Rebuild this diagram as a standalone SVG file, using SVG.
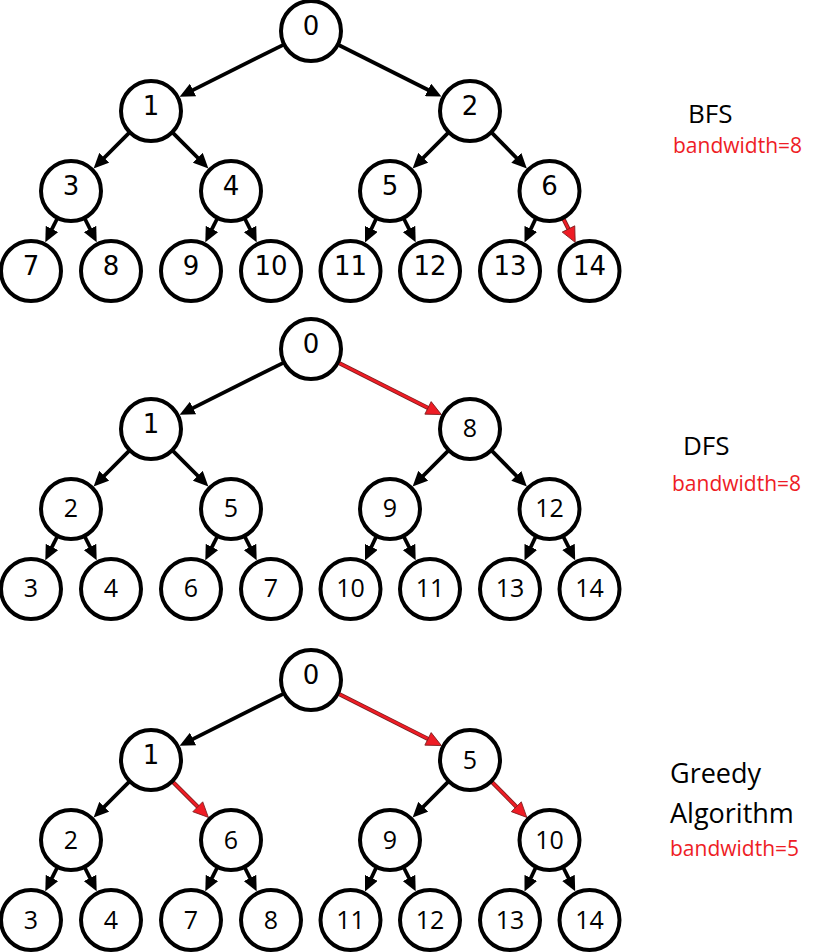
<svg xmlns="http://www.w3.org/2000/svg" width="826" height="952" viewBox="0 0 826 952">
<style>
.n circle{fill:#fff;stroke:#000;stroke-width:4}
.n text{font-size:25px;text-anchor:middle;fill:#000}
.n text.dj{font-family:"DejaVu Sans",sans-serif;font-size:26px}
.n text.os{font-family:"Open Sans","Liberation Sans",sans-serif}
.e{stroke:#000;stroke-width:3.8;fill:none;marker-end:url(#ab)}
.ru{stroke:#7a1e1e;stroke-width:4.2;fill:none}
.r{stroke:#ee1c25;stroke-width:2.6;fill:none;marker-end:url(#ar)}
.lab{font-family:"Open Sans","Liberation Sans",sans-serif;fill:#000}
.bw{font-family:"Open Sans","Liberation Sans",sans-serif;fill:#ee1c25;font-size:21px}
</style>
<defs>
<marker id="ab" markerUnits="userSpaceOnUse" markerWidth="15" markerHeight="14" viewBox="0 0 15 14" refX="7" refY="7" orient="auto"><path d="M0,0 L15,7 L0,14 z" fill="#000"/></marker>
<marker id="ar" markerUnits="userSpaceOnUse" markerWidth="17" markerHeight="16" viewBox="-1 -1 17 16" refX="7" refY="7" orient="auto"><path d="M0,0 L15,7 L0,14 z" fill="#ee1c25" stroke="#7a1e1e" stroke-width="0.8"/></marker>
</defs>

<!-- Tree 1: BFS -->
<g id="tree-bfs">
<g id="edges-bfs">
<line class="e" x1="283.27" y1="44.86" x2="186.78" y2="93.11"/>
<line class="e" x1="338.69" y1="44.93" x2="434.27" y2="93.02"/>
<line class="e" x1="129.08" y1="132.92" x2="99.28" y2="162.72"/>
<line class="e" x1="172.92" y1="132.92" x2="202.72" y2="162.72"/>
<line class="e" x1="448.08" y1="132.92" x2="418.28" y2="162.72"/>
<line class="e" x1="491.92" y1="132.92" x2="521.22" y2="162.72"/>
<line class="e" x1="57.14" y1="218.73" x2="48.89" y2="235.22"/>
<line class="e" x1="84.86" y1="218.73" x2="93.11" y2="235.22"/>
<line class="e" x1="217.14" y1="218.73" x2="208.89" y2="235.22"/>
<line class="e" x1="244.86" y1="218.73" x2="253.11" y2="235.22"/>
<line class="e" x1="376.14" y1="218.73" x2="368.39" y2="235.22"/>
<line class="e" x1="403.86" y1="218.73" x2="412.11" y2="235.22"/>
<line class="e" x1="535.64" y1="218.73" x2="527.89" y2="235.22"/>
<line class="ru" x1="563.36" y1="218.73" x2="571.61" y2="235.22"/>
<line class="r" x1="563.36" y1="218.73" x2="571.61" y2="235.22"/>
</g>
<g id="bfs-0" class="n"><circle cx="311" cy="31" r="30"/><text class="dj" x="311" y="35">0</text></g>
<g id="bfs-1" class="n"><circle cx="151" cy="111" r="30"/><text class="dj" x="151" y="115">1</text></g>
<g id="bfs-2" class="n"><circle cx="470" cy="111" r="30"/><text class="dj" x="470" y="115">2</text></g>
<g id="bfs-3" class="n"><circle cx="71" cy="191" r="30"/><text class="dj" x="71" y="195">3</text></g>
<g id="bfs-4" class="n"><circle cx="231" cy="191" r="30"/><text class="dj" x="231" y="195">4</text></g>
<g id="bfs-5" class="n"><circle cx="390" cy="191" r="30"/><text class="dj" x="390" y="195">5</text></g>
<g id="bfs-6" class="n"><circle cx="549.5" cy="191" r="30"/><text class="dj" x="549.5" y="195">6</text></g>
<g id="bfs-7" class="n"><circle cx="31" cy="271" r="30"/><text class="dj" x="31" y="275">7</text></g>
<g id="bfs-8" class="n"><circle cx="111" cy="271" r="30"/><text class="dj" x="111" y="275">8</text></g>
<g id="bfs-9" class="n"><circle cx="191" cy="271" r="30"/><text class="dj" x="191" y="275">9</text></g>
<g id="bfs-10" class="n"><circle cx="271" cy="271" r="30"/><text class="dj" x="271" y="275">10</text></g>
<g id="bfs-11" class="n"><circle cx="350.5" cy="271" r="30"/><text class="dj" x="350.5" y="275">11</text></g>
<g id="bfs-12" class="n"><circle cx="430" cy="271" r="30"/><text class="dj" x="430" y="275">12</text></g>
<g id="bfs-13" class="n"><circle cx="510" cy="271" r="30"/><text class="dj" x="510" y="275">13</text></g>
<g id="bfs-14" class="n"><circle cx="589.5" cy="271" r="30"/><text class="dj" x="589.5" y="275">14</text></g>
<text class="lab" x="688" y="123" font-size="26">BFS</text>
<text class="bw" x="673" y="153">bandwidth=8</text>
</g>

<!-- Tree 2: DFS -->
<g id="tree-dfs" transform="translate(0,318)">
<g id="edges-dfs">
<line class="e" x1="283.27" y1="44.86" x2="186.78" y2="93.11"/>
<line class="ru" x1="338.69" y1="44.93" x2="434.27" y2="93.02"/>
<line class="r" x1="338.69" y1="44.93" x2="434.27" y2="93.02"/>
<line class="e" x1="129.08" y1="132.92" x2="99.28" y2="162.72"/>
<line class="e" x1="172.92" y1="132.92" x2="202.72" y2="162.72"/>
<line class="e" x1="448.08" y1="132.92" x2="418.28" y2="162.72"/>
<line class="e" x1="491.92" y1="132.92" x2="521.22" y2="162.72"/>
<line class="e" x1="57.14" y1="218.73" x2="48.89" y2="235.22"/>
<line class="e" x1="84.86" y1="218.73" x2="93.11" y2="235.22"/>
<line class="e" x1="217.14" y1="218.73" x2="208.89" y2="235.22"/>
<line class="e" x1="244.86" y1="218.73" x2="253.11" y2="235.22"/>
<line class="e" x1="376.14" y1="218.73" x2="368.39" y2="235.22"/>
<line class="e" x1="403.86" y1="218.73" x2="412.11" y2="235.22"/>
<line class="e" x1="535.64" y1="218.73" x2="527.89" y2="235.22"/>
<line class="e" x1="563.36" y1="218.73" x2="571.61" y2="235.22"/>
</g>
<g id="dfs-0" class="n"><circle cx="311" cy="31" r="30"/><text class="dj" x="311" y="35">0</text></g>
<g id="dfs-1" class="n"><circle cx="151" cy="111" r="30"/><text class="dj" x="151" y="115">1</text></g>
<g id="dfs-8" class="n"><circle cx="470" cy="111" r="30"/><text class="os" x="470" y="119">8</text></g>
<g id="dfs-2" class="n"><circle cx="71" cy="191" r="30"/><text class="os" x="71" y="199">2</text></g>
<g id="dfs-5" class="n"><circle cx="231" cy="191" r="30"/><text class="os" x="231" y="199">5</text></g>
<g id="dfs-9" class="n"><circle cx="390" cy="191" r="30"/><text class="os" x="390" y="199">9</text></g>
<g id="dfs-12" class="n"><circle cx="549.5" cy="191" r="30"/><text class="os" x="549.5" y="199">12</text></g>
<g id="dfs-3" class="n"><circle cx="31" cy="271" r="30"/><text class="os" x="31" y="279">3</text></g>
<g id="dfs-4" class="n"><circle cx="111" cy="271" r="30"/><text class="os" x="111" y="279">4</text></g>
<g id="dfs-6" class="n"><circle cx="191" cy="271" r="30"/><text class="os" x="191" y="279">6</text></g>
<g id="dfs-7" class="n"><circle cx="271" cy="271" r="30"/><text class="os" x="271" y="279">7</text></g>
<g id="dfs-10" class="n"><circle cx="350.5" cy="271" r="30"/><text class="os" x="350.5" y="279">10</text></g>
<g id="dfs-11" class="n"><circle cx="430" cy="271" r="30"/><text class="os" x="430" y="279">11</text></g>
<g id="dfs-13" class="n"><circle cx="510" cy="271" r="30"/><text class="os" x="510" y="279">13</text></g>
<g id="dfs-14" class="n"><circle cx="589.5" cy="271" r="30"/><text class="os" x="589.5" y="279">14</text></g>
<text class="lab" x="683" y="137" font-size="26">DFS</text>
<text class="bw" x="672" y="173">bandwidth=8</text>
</g>

<!-- Tree 3: Greedy -->
<g id="tree-greedy" transform="translate(0,649)">
<g id="edges-greedy">
<line class="e" x1="283.27" y1="44.86" x2="186.78" y2="93.11"/>
<line class="ru" x1="338.69" y1="44.93" x2="434.27" y2="93.02"/>
<line class="r" x1="338.69" y1="44.93" x2="434.27" y2="93.02"/>
<line class="e" x1="129.08" y1="132.92" x2="99.28" y2="162.72"/>
<line class="ru" x1="172.92" y1="132.92" x2="202.72" y2="162.72"/>
<line class="r" x1="172.92" y1="132.92" x2="202.72" y2="162.72"/>
<line class="e" x1="448.08" y1="132.92" x2="418.28" y2="162.72"/>
<line class="ru" x1="491.92" y1="132.92" x2="521.22" y2="162.72"/>
<line class="r" x1="491.92" y1="132.92" x2="521.22" y2="162.72"/>
<line class="e" x1="57.14" y1="218.73" x2="48.89" y2="235.22"/>
<line class="e" x1="84.86" y1="218.73" x2="93.11" y2="235.22"/>
<line class="e" x1="217.14" y1="218.73" x2="208.89" y2="235.22"/>
<line class="e" x1="244.86" y1="218.73" x2="253.11" y2="235.22"/>
<line class="e" x1="376.14" y1="218.73" x2="368.39" y2="235.22"/>
<line class="e" x1="403.86" y1="218.73" x2="412.11" y2="235.22"/>
<line class="e" x1="535.64" y1="218.73" x2="527.89" y2="235.22"/>
<line class="e" x1="563.36" y1="218.73" x2="571.61" y2="235.22"/>
</g>
<g id="gr-0" class="n"><circle cx="311" cy="31" r="30"/><text class="dj" x="311" y="35">0</text></g>
<g id="gr-1" class="n"><circle cx="151" cy="111" r="30"/><text class="dj" x="151" y="115">1</text></g>
<g id="gr-5" class="n"><circle cx="470" cy="111" r="30"/><text class="os" x="470" y="120">5</text></g>
<g id="gr-2" class="n"><circle cx="71" cy="191" r="30"/><text class="os" x="71" y="200">2</text></g>
<g id="gr-6" class="n"><circle cx="231" cy="191" r="30"/><text class="os" x="231" y="200">6</text></g>
<g id="gr-9" class="n"><circle cx="390" cy="191" r="30"/><text class="os" x="390" y="200">9</text></g>
<g id="gr-10" class="n"><circle cx="549.5" cy="191" r="30"/><text class="os" x="549.5" y="200">10</text></g>
<g id="gr-3" class="n"><circle cx="31" cy="271" r="30"/><text class="os" x="31" y="280">3</text></g>
<g id="gr-4" class="n"><circle cx="111" cy="271" r="30"/><text class="os" x="111" y="280">4</text></g>
<g id="gr-7" class="n"><circle cx="191" cy="271" r="30"/><text class="os" x="191" y="280">7</text></g>
<g id="gr-8" class="n"><circle cx="271" cy="271" r="30"/><text class="os" x="271" y="280">8</text></g>
<g id="gr-11" class="n"><circle cx="350.5" cy="271" r="30"/><text class="os" x="350.5" y="280">11</text></g>
<g id="gr-12" class="n"><circle cx="430" cy="271" r="30"/><text class="os" x="430" y="280">12</text></g>
<g id="gr-13" class="n"><circle cx="510" cy="271" r="30"/><text class="os" x="510" y="280">13</text></g>
<g id="gr-14" class="n"><circle cx="589.5" cy="271" r="30"/><text class="os" x="589.5" y="280">14</text></g>
<text class="lab" x="670" y="134" font-size="27">Greedy</text>
<text class="lab" x="670" y="174" font-size="27">Algorithm</text>
<text class="bw" x="670" y="207">bandwidth=5</text>
</g>
</svg>
